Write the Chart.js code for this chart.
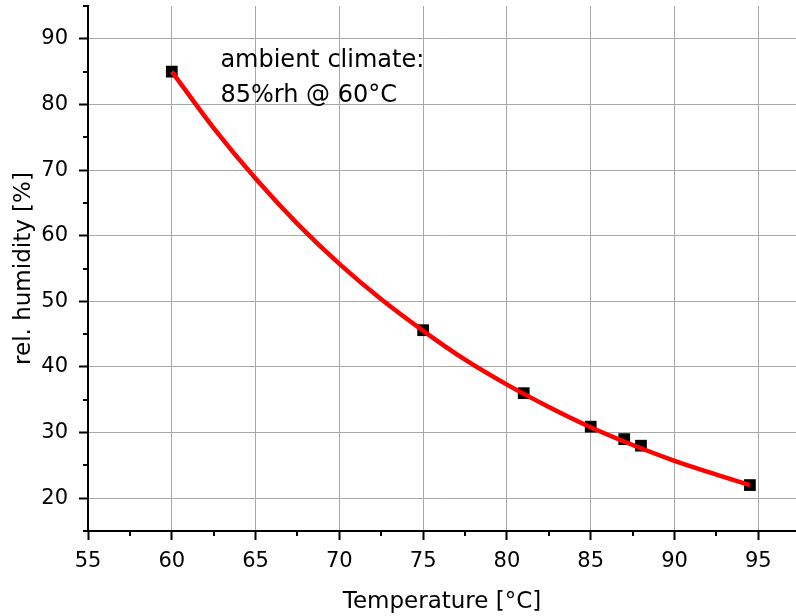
<!DOCTYPE html>
<html><head><meta charset="utf-8">
<script src="https://cdn.jsdelivr.net/npm/chart.js@4.4.0/dist/chart.umd.min.js"></script>
<style>html,body{margin:0;padding:0;background:#fff}#wrap{width:796px;height:616px}</style>
</head><body><div id="wrap"><canvas id="c" width="796" height="616"></canvas></div>
<script>
const measuredTemp = [60, 75, 81, 85, 87, 88, 94.5];
const measuredRH   = [85, 45.6, 36, 30.9, 29, 28, 22];
const fitTemp = [60, 62.5, 65, 67.5, 70, 72.5, 75, 77.5, 80, 82.5, 85, 87.5, 90, 92.5, 94.5];
const fitRH   = [85, 76.4, 68.7, 61.8, 55.7, 50.3, 45.5, 41.1, 37.3, 33.9, 30.8, 28.1, 25.7, 23.6, 22.0];
const xMajorTicks = [55, 60, 65, 70, 75, 80, 85, 90, 95];
const xMinorTicks = [57.5, 62.5, 67.5, 72.5, 77.5, 82.5, 87.5, 92.5];
const yMajorTicks = [20, 30, 40, 50, 60, 70, 80, 90];
const yMinorTicks = [15, 25, 35, 45, 55, 65, 75, 85, 95];
const annotationLines = ["ambient climate:", "85%rh @ 60°C"];
const annotationPos = {x: 62.9, y: [85.7, 80.4]};

const FONT = "'DejaVu Sans', sans-serif";

const extras = {
  id: 'extras',
  afterDraw(chart) {
    const ctx = chart.ctx;
    const xs = chart.scales.x, ys = chart.scales.y;
    const a = chart.chartArea;
    ctx.save();
    ctx.strokeStyle = '#000';
    ctx.lineWidth = 2;
    ctx.beginPath();
    xMinorTicks.forEach(v => {
      const px = Math.round(xs.getPixelForValue(v));
      ctx.moveTo(px, a.bottom); ctx.lineTo(px, a.bottom + 5);
    });
    yMinorTicks.forEach(v => {
      const py = Math.round(ys.getPixelForValue(v));
      ctx.moveTo(a.left, py); ctx.lineTo(a.left - 5, py);
    });
    ctx.stroke();
    ctx.restore();
  },
  afterDatasetsDraw(chart) {
    const ctx = chart.ctx;
    const xs = chart.scales.x, ys = chart.scales.y;
    ctx.save();
    ctx.fillStyle = '#000';
    ctx.font = "24px " + FONT;
    ctx.textAlign = 'left';
    ctx.textBaseline = 'alphabetic';
    annotationLines.forEach((t, i) => {
      ctx.fillText(t, xs.getPixelForValue(annotationPos.x), ys.getPixelForValue(annotationPos.y[i]));
    });
    ctx.restore();
  }
};

function zeroPad(s) { s.paddingTop = 0; s.paddingBottom = 0; s.paddingLeft = 0; s.paddingRight = 0; }

new Chart(document.getElementById('c'), {
  type: 'scatter',
  data: {
    datasets: [
      {
        label: 'fit',
        data: fitTemp.map((t, i) => ({x: t, y: fitRH[i]})),
        showLine: true,
        borderColor: '#ff0000',
        borderWidth: 4.5,
        pointRadius: 0,
        cubicInterpolationMode: 'monotone',
        fill: false
      },
      {
        label: 'measured',
        data: measuredTemp.map((t, i) => ({x: t, y: measuredRH[i]})),
        showLine: false,
        pointStyle: 'rect',
        pointRadius: 8.3,
        backgroundColor: '#000',
        borderColor: '#000',
        borderWidth: 0
      }
    ]
  },
  options: {
    responsive: false,
    animation: false,
    layout: {autoPadding: false, padding: {top: 6, right: 0, left: 0, bottom: 0}},
    plugins: {legend: {display: false}, tooltip: {enabled: false}},
    scales: {
      x: {
        type: 'linear',
        min: 55, max: 97.25,
        afterBuildTicks: s => { s.ticks = xMajorTicks.map(v => ({value: v})); },
        afterFit: s => { s.height = 85; zeroPad(s); },
        border: {display: true, color: '#000', width: 2},
        grid: {color: '#a8a8a8', lineWidth: 1, drawTicks: true, tickLength: 9, tickColor: '#000', tickWidth: 2},
        ticks: {font: {size: 21, family: FONT}, color: '#000', padding: 9, maxRotation: 0, autoSkip: false},
        title: {display: true, text: 'Temperature [°C]', font: {size: 23, family: FONT}, color: '#000', padding: {top: 0, bottom: 0}}
      },
      y: {
        type: 'linear',
        min: 15, max: 95,
        afterBuildTicks: s => { s.ticks = yMajorTicks.map(v => ({value: v})); },
        afterFit: s => { s.width = 88; zeroPad(s); },
        border: {display: true, color: '#000', width: 2},
        grid: {color: '#a8a8a8', lineWidth: 1, drawTicks: true, tickLength: 9, tickColor: '#000', tickWidth: 2},
        ticks: {font: {size: 21, family: FONT}, color: '#000', padding: 11, autoSkip: false},
        title: {display: true, text: 'rel. humidity [%]', font: {size: 23, family: FONT}, color: '#000', padding: {top: 10, bottom: 0}}
      }
    }
  },
  plugins: [extras]
});
</script>
</body></html>
